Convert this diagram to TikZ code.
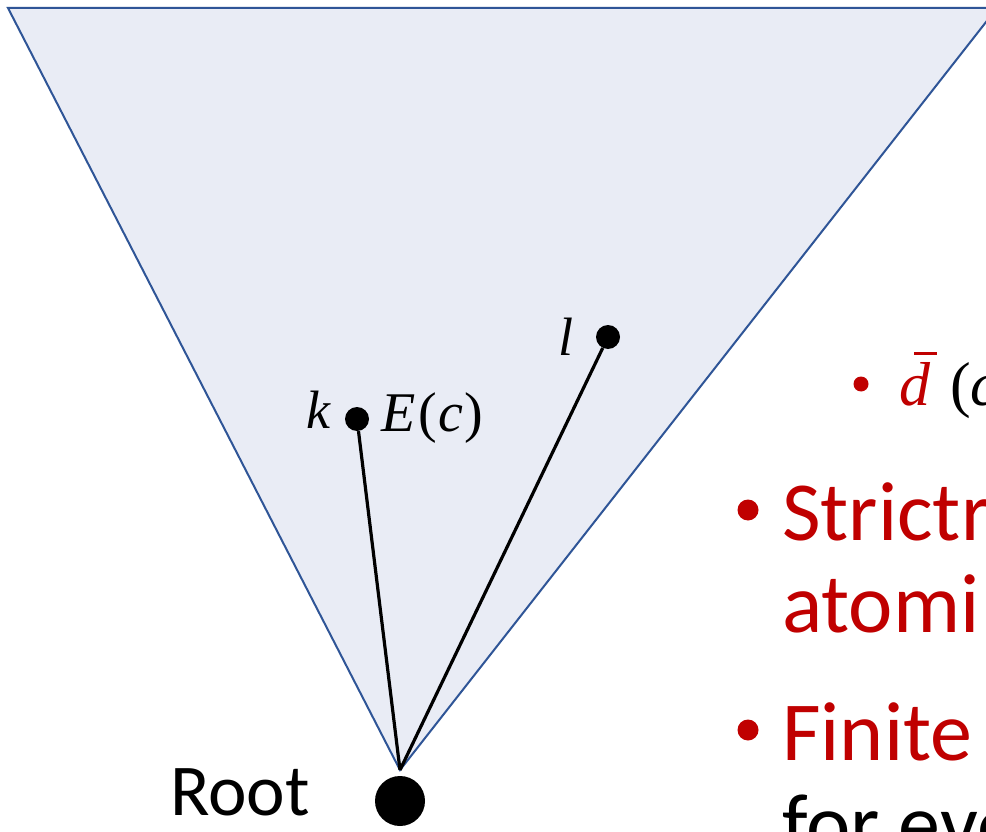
\documentclass[tikz,border=0pt]{standalone}
\usepackage{fontspec}
\setmainfont{Carlito}
\newfontfamily\mathlike{Liberation Serif}
\definecolor{trifill}{RGB}{233,236,245}
\definecolor{triedge}{RGB}{47,85,151}
\definecolor{slidered}{RGB}{192,0,0}
\tikzset{
  dotnode/.style={circle,fill=black,inner sep=0pt},
  lbl/.style={inner sep=0pt,anchor=base west},
  edgeline/.style={line width=3.2pt,black},
  bul/.style={circle,fill=slidered,inner sep=0pt}
}
\begin{document}
\begin{tikzpicture}[x=1pt,y=-1pt]
\useasboundingbox (0,0) rectangle (986,832);
\clip (0,0) rectangle (986,832);
\fill[white] (0,0) rectangle (986,832);
% triangle
\draw[fill=trifill,draw=triedge,line width=2pt,line join=miter] (8,8) -- (997,8) -- (400,770) -- cycle;
\coordinate (apex) at (400,770);
% nodes
\node[dotnode,minimum size=24pt] (k) at (357,419) {};
\node[dotnode,minimum size=24pt] (l) at (608,337) {};
\node[dotnode,minimum size=50pt] (root) at (400,801) {};
\draw[edgeline] (k) -- (apex);
\draw[edgeline] (l) -- (apex);
% labels
\node[lbl] (klbl) at (306,428) {\fontsize{54}{60}\selectfont\mathlike\itshape k};
\node[lbl] (elbl) at (381,431) {\fontsize{56}{60}\selectfont\mathlike\itshape E\kern3pt\upshape(\kern1pt\itshape c\kern2pt\upshape)};
\node[lbl] (llbl) at (558,355) {\fontsize{54}{60}\selectfont\mathlike\itshape l};
\node[lbl] (rootlbl) at (170,815) {\fontsize{73}{80}\selectfont Root};
% bullet text
\node[bul,minimum size=15pt] (b0) at (861,384) {};
\node[lbl,text=slidered] (t0) at (899,405) {\fontsize{62}{66}\selectfont\mathlike\itshape d};
\coordinate (barl) at (914,353.5);
\coordinate (barr) at (937,353.5);
\draw[slidered,line width=3pt] (barl) -- (barr);
\node[lbl] (t0b) at (950,405) {\fontsize{62}{66}\selectfont\mathlike(\itshape c};
\node[bul,minimum size=21pt] (b1) at (748,510) {};
\node[lbl,text=slidered] (t1) at (782,540) {\fontsize{84}{92}\selectfont Strictr};
\node[lbl,text=slidered] (t2) at (782,632) {\fontsize{84}{92}\selectfont atomi};
\node[bul,minimum size=21pt] (b2) at (748,730) {};
\node[lbl,text=slidered] (t3) at (782,760) {\fontsize{84}{92}\selectfont Finite};
\node[lbl] (t4) at (782,852) {\fontsize{84}{92}\selectfont for eve};
\end{tikzpicture}
\end{document}
